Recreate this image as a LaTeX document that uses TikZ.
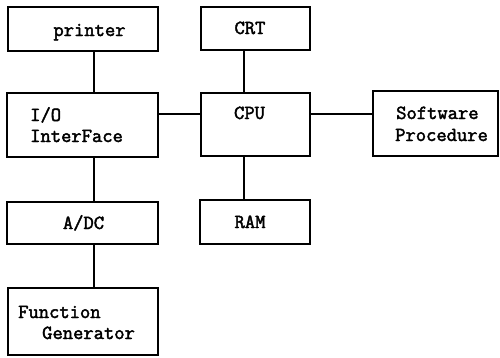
\documentclass[tikz,border=0pt]{standalone}
\usepackage{fontspec}
\newfontfamily\tyfont{Latin Modern Mono}[FakeBold=2.2]
\begin{document}
\begin{tikzpicture}[x=1pt,y=-1pt,
  box/.style={draw, line width=1.4pt, rectangle, inner sep=0pt, outer sep=0pt},
  txt/.style={inner sep=0pt, font=\tyfont\fontsize{20}{21}\selectfont},
  link/.style={line width=1.4pt}]
\useasboundingbox (0,0) rectangle (500,357);
% boxes
\node[box, minimum width=150pt, minimum height=44pt] (printer) at (83,29) {};
\node[box, minimum width=109pt, minimum height=43pt] (crt) at (255.5,28.5) {};
\node[box, minimum width=151pt, minimum height=64pt] (io) at (82.5,125) {};
\node[box, minimum width=109pt, minimum height=63pt] (cpu) at (255.5,124.5) {};
\node[box, minimum width=125pt, minimum height=65pt] (sw) at (435.5,123.5) {};
\node[box, minimum width=151pt, minimum height=42pt] (adc) at (82.5,223) {};
\node[box, minimum width=110pt, minimum height=44pt] (ram) at (255,222) {};
\node[box, minimum width=150pt, minimum height=67pt] (fg) at (83,321.5) {};
% texts
\node[txt, anchor=base] (tprinter) at (89.5,36) {printer};
\node[txt, anchor=base west] (tio1) at (30,121) {I/O};
\node[txt, anchor=base west] (tio2) at (30,142) {InterFace};
\node[txt, anchor=base] (tcrt) at (250,34) {CRT};
\node[txt, anchor=base] (tcpu) at (249.5,119) {CPU};
\node[txt, anchor=base west] (tsw1) at (396,119) {Software};
\node[txt, anchor=base west] (tsw2) at (395,141) {Procedure};
\node[txt, anchor=base] (tadc) at (83.5,229) {A/DC};
\node[txt, anchor=base] (tram) at (250,228) {RAM};
\node[txt, anchor=base west] (tfg1) at (18,318) {Function};
\node[txt, anchor=base west] (tfg2) at (42,339) {Generator};
% connectors
\draw[link] ([xshift=11pt]printer.south) -- ([xshift=11pt]printer.south |- io.north);
\draw[link] ([xshift=-11.5pt]crt.south) -- ([xshift=-11.5pt]crt.south |- cpu.north);
\draw[link] ([yshift=11pt]io.east) -- ([yshift=11pt]io.east -| cpu.west);
\draw[link] ([yshift=10.5pt]cpu.east) -- ([yshift=10.5pt]cpu.east -| sw.west);
\draw[link] ([xshift=11.5pt]io.south) -- ([xshift=11.5pt]io.south |- adc.north);
\draw[link] ([xshift=-11.5pt]cpu.south) -- ([xshift=-11.5pt]cpu.south |- ram.north);
\draw[link] ([xshift=11.5pt]adc.south) -- ([xshift=11.5pt]adc.south |- fg.north);
\end{tikzpicture}
\end{document}
